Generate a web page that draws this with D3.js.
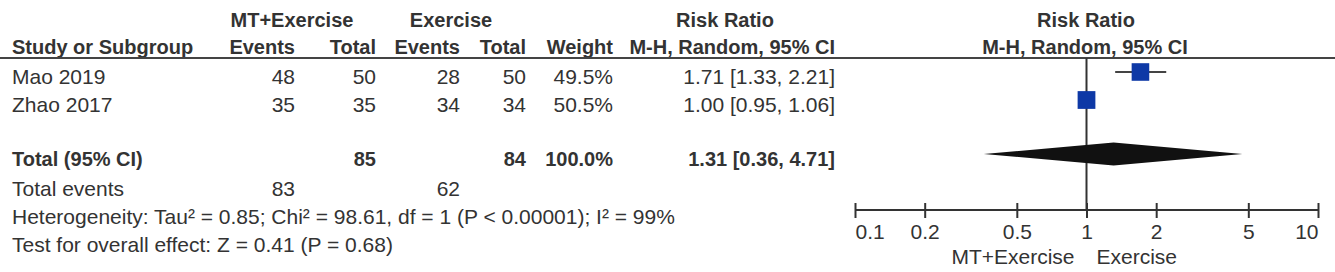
<!DOCTYPE html>
<html>
<head>
<meta charset="utf-8">
<script src="https://cdn.jsdelivr.net/npm/d3@7"></script>
<style>
  body { margin: 0; background: #fff; }
  svg { display: block; font-family: "Liberation Sans", Arial, sans-serif; }
  text { fill: #333; font-size: 21px; }
  .b { font-weight: bold; font-size: 20px; }
</style>
</head>
<body>
<svg id="chart"></svg>
<script>
// Study data
const studies = ['Mao 2019', 'Zhao 2017'];
const expEvents = [48, 35];
const expTotal = [50, 35];
const ctrlEvents = [28, 34];
const ctrlTotal = [50, 34];
const weights = [49.5, 50.5];
const rr = [1.71, 1.00];
const rrLow = [1.33, 0.95];
const rrHigh = [2.21, 1.06];

// Pooled result
const pooledTotals = [85, 84];
const pooledEvents = [83, 62];
const pooledWeight = 100.0;
const pooledRR = [1.31, 0.36, 4.71]; // estimate, lower, upper
const heterogeneity = 'Heterogeneity: Tau² = 0.85; Chi² = 98.61, df = 1 (P < 0.00001); I² = 99%';
const overall = 'Test for overall effect: Z = 0.41 (P = 0.68)';

const axisTicks = [0.1, 0.2, 0.5, 1, 2, 5, 10];
const favourLabels = ['MT+Exercise', 'Exercise'];

const W = 1335, H = 272;
const svg = d3.select('#chart').attr('width', W).attr('height', H);

// scales
const x = d3.scaleLog().domain([0.1, 10]).range([855, 1318]);
const rowY = d3.scaleLinear().domain([0, 1]).range([72, 100]); // row index -> centre
const boxSize = d3.scaleSqrt().domain([0, 100]).range([0, 25]);
const textDy = 12;

// column right edges
const col = { expEv: 295, expTot: 376, ctrlEv: 460, ctrlTot: 526, weight: 613, ci: 835 };
const fmt2 = d3.format('.2f');
const ciText = (m, l, h) => `${fmt2(m)} [${fmt2(l)}, ${fmt2(h)}]`;

// headers
const header = svg.append('g');
header.append('text').attr('class', 'b').attr('x', 292).attr('y', 27).attr('text-anchor', 'middle').text('MT+Exercise');
header.append('text').attr('class', 'b').attr('x', 451).attr('y', 27).attr('text-anchor', 'middle').text('Exercise');
header.append('text').attr('class', 'b').attr('x', 725).attr('y', 27).attr('text-anchor', 'middle').text('Risk Ratio');
header.append('text').attr('class', 'b').attr('x', 1086).attr('y', 27).attr('text-anchor', 'middle').text('Risk Ratio');

header.append('text').attr('class', 'b').attr('x', 12).attr('y', 54).text('Study or Subgroup');
[['Events', col.expEv], ['Total', col.expTot], ['Events', col.ctrlEv], ['Total', col.ctrlTot], ['Weight', col.weight], ['M-H, Random, 95% CI', col.ci]]
  .forEach(([t, cx]) => header.append('text').attr('class', 'b').attr('x', cx).attr('y', 54).attr('text-anchor', 'end').text(t));
header.append('text').attr('class', 'b').attr('x', 1085).attr('y', 54).attr('text-anchor', 'middle').text('M-H, Random, 95% CI');

svg.append('line').attr('x1', 0).attr('x2', W).attr('y1', 58).attr('y2', 58)
  .attr('stroke', '#444').attr('stroke-width', 2);

// study rows
studies.forEach((s, i) => {
  const y = rowY(i) + textDy;
  svg.append('text').attr('x', 12).attr('y', y).text(s);
  const cells = [[expEvents[i], col.expEv], [expTotal[i], col.expTot], [ctrlEvents[i], col.ctrlEv],
    [ctrlTotal[i], col.ctrlTot], [`${weights[i].toFixed(1)}%`, col.weight], [ciText(rr[i], rrLow[i], rrHigh[i]), col.ci]];
  cells.forEach(([t, cx]) => svg.append('text').attr('x', cx).attr('y', y).attr('text-anchor', 'end').text(t));
});

// total row
const totalRow = 3;
const ty = rowY(totalRow) + textDy;
svg.append('text').attr('class', 'b').attr('x', 12).attr('y', ty - 2).text('Total (95% CI)');
[[pooledTotals[0], col.expTot], [pooledTotals[1], col.ctrlTot], [`${pooledWeight.toFixed(1)}%`, col.weight],
  [ciText(...pooledRR), col.ci]]
  .forEach(([t, cx]) => svg.append('text').attr('class', 'b').attr('x', cx).attr('y', ty - 2).attr('text-anchor', 'end').text(t));

const ey = rowY(4) + textDy;
svg.append('text').attr('x', 12).attr('y', ey).text('Total events');
svg.append('text').attr('x', col.expEv).attr('y', ey).attr('text-anchor', 'end').text(pooledEvents[0]);
svg.append('text').attr('x', col.ctrlEv).attr('y', ey).attr('text-anchor', 'end').text(pooledEvents[1]);
svg.append('text').attr('x', 12).attr('y', rowY(5) + textDy).text(heterogeneity);
svg.append('text').attr('x', 12).attr('y', rowY(6) + textDy).text(overall);

// forest plot
const axisY = 210;
const plot = svg.append('g');

plot.append('line').attr('x1', x(1)).attr('x2', x(1)).attr('y1', 58).attr('y2', axisY)
  .attr('stroke', '#333').attr('stroke-width', 2);

studies.forEach((s, i) => {
  const cy = rowY(i);
  plot.append('line').attr('x1', x(rrLow[i])).attr('x2', x(rrHigh[i])).attr('y1', cy).attr('y2', cy)
    .attr('stroke', '#444').attr('stroke-width', 2);
  const sz = boxSize(weights[i]);
  plot.append('rect').attr('x', x(rr[i]) - sz / 2).attr('y', cy - sz / 2)
    .attr('width', sz).attr('height', sz).attr('fill', '#0e39a6');
});

const dy = rowY(totalRow) - 2;
plot.append('polygon')
  .attr('points', [[x(pooledRR[1]), dy], [x(pooledRR[0]), dy - 11.5], [x(pooledRR[2]), dy], [x(pooledRR[0]), dy + 11.5]].join(' '))
  .attr('fill', '#111');

// axis
const axisG = plot.append('g').attr('transform', `translate(0,${axisY})`)
  .call(d3.axisBottom(x).tickValues(axisTicks).tickFormat(d => d).tickSize(8).tickPadding(6));
axisG.select('.domain').attr('stroke', '#333').attr('stroke-width', 2).attr('d', `M${x(0.1)},0H${x(10)}`);
axisG.selectAll('.tick line').attr('y1', -7).attr('y2', 8).attr('stroke', '#333').attr('stroke-width', 2);
axisG.selectAll('.tick text').attr('font-size', 21).attr('fill', '#333').attr('font-family', null)
  .attr('text-anchor', d => d === 0.1 ? 'start' : d === 10 ? 'end' : 'middle');

plot.append('text').attr('x', x(1) - 12).attr('y', 264).attr('text-anchor', 'end').text(favourLabels[0]);
plot.append('text').attr('x', x(1) + 10).attr('y', 264).attr('text-anchor', 'start').text(favourLabels[1]);
</script>
</body>
</html>
